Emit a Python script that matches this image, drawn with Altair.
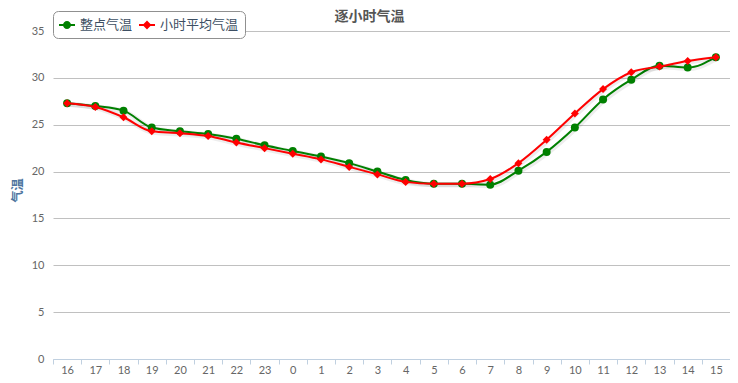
import altair as alt
import pandas as pd

hours = ["16", "17", "18", "19", "20", "21", "22", "23", "0", "1", "2", "3",
         "4", "5", "6", "7", "8", "9", "10", "11", "12", "13", "14", "15"]
green_vals = [27.3, 27.0, 26.5, 24.7, 24.3, 24.0, 23.5, 22.8, 22.2, 21.6, 20.9, 20.0,
              19.1, 18.7, 18.7, 18.6, 20.1, 22.1, 24.7, 27.7, 29.8, 31.3, 31.1, 32.2]
red_vals = [27.3, 26.9, 25.8, 24.3, 24.1, 23.8, 23.1, 22.5, 21.9, 21.3, 20.5, 19.7,
            18.9, 18.7, 18.7, 19.2, 20.9, 23.4, 26.2, 28.8, 30.6, 31.2, 31.8, 32.2]
series_names = ["整点气温", "小时平均气温"]
series_colors = ["#008000", "#FF0000"]
y_ticks = [0, 5, 10, 15, 20, 25, 30, 35]

rows = []
for name, vals in zip(series_names, [green_vals, red_vals]):
    for h, v in zip(hours, vals):
        rows.append({"hour": h, "temp": v, "series": name})
df = pd.DataFrame(rows)

FONT = "Noto Sans CJK SC"
NUMFONT = "Lato"

x = alt.X(
    "hour:N", sort=hours, bandPosition=0.5,
    scale=alt.Scale(type="band", paddingInner=0, paddingOuter=0),
    axis=alt.Axis(title=None, tickBand="extent", labelAngle=0, domainColor="#C0D0E0",
                  tickColor="#C0D0E0", tickSize=5, labelColor="#666666", labelFontSize=11,
                  labelFont=NUMFONT, labelPadding=0, grid=False),
)
y = alt.Y(
    "temp:Q",
    scale=alt.Scale(domain=[0, 35], nice=False, zero=True),
    axis=alt.Axis(values=y_ticks, title="气温", titleX=-36, titleY=159, titleAngle=270,
                  titleBaseline="middle", titleColor="#4d759e", titleFontSize=12,
                  titleFont=FONT, titleFontWeight="bold", domain=False, ticks=False,
                  gridColor="#C0C0C0", labelColor="#666666", labelFontSize=11,
                  labelFont=NUMFONT, labelPadding=9),
)

path_g = ("M-1,-0.125L1,-0.125L1,0.125L-1,0.125Z"
          "M0.5,0A0.5,0.5,0,1,1,-0.5,0A0.5,0.5,0,1,1,0.5,0Z")
path_r = ("M-1,-0.125L1,-0.125L1,0.125L-1,0.125Z"
          "M0,-0.55L0.55,0L0,0.55L-0.55,0Z")

leg = dict(title=None, orient="none", legendX=0, legendY=-20, direction="horizontal",
           fillColor="white", strokeColor="#909090", cornerRadius=5, padding=6,
           labelFont=FONT, labelFontSize=13, labelColor="#3d4f63", symbolSize=256,
           symbolStrokeWidth=0, labelOffset=5, columnPadding=6)

base = alt.Chart(df)

layers = []
for name, col, shp in zip(series_names, series_colors, ["circle", "diamond"]):
    sub = base.transform_filter(alt.datum.series == name)
    layers.append(sub.mark_line(interpolate="monotone", stroke="black", strokeWidth=5,
                                opacity=0.07, xOffset=1, yOffset=1).encode(x=x, y=y))
    layers.append(sub.mark_line(interpolate="monotone", stroke=col, strokeWidth=2).encode(x=x, y=y))
    layers.append(sub.mark_point(shape=shp, filled=True, size=64, fill=col, opacity=1).encode(x=x, y=y))

legend_layer = base.mark_point(filled=True, size=256, opacity=1).encode(
    x=x, y=y,
    color=alt.Color("series:N", scale=alt.Scale(domain=series_names, range=series_colors),
                    legend=alt.Legend(**leg)),
    shape=alt.Shape("series:N", scale=alt.Scale(domain=series_names, range=[path_g, path_r]),
                    legend=alt.Legend(**leg)),
).transform_filter("false")
layers.append(legend_layer)

chart = alt.layer(*layers).properties(
    width=677, height=328,
    title=alt.TitleParams("逐小时气温", fontSize=14, fontWeight="bold", color="#555555",
                          font=FONT, anchor="middle", dx=-22, offset=-13),
    autosize=alt.AutoSizeParams(type="none"),
    padding={"left": 45, "top": 23, "right": 0, "bottom": 16},
).configure_view(stroke=None)

chart.save("out.html", embed_options={"renderer": "svg", "actions": False})
